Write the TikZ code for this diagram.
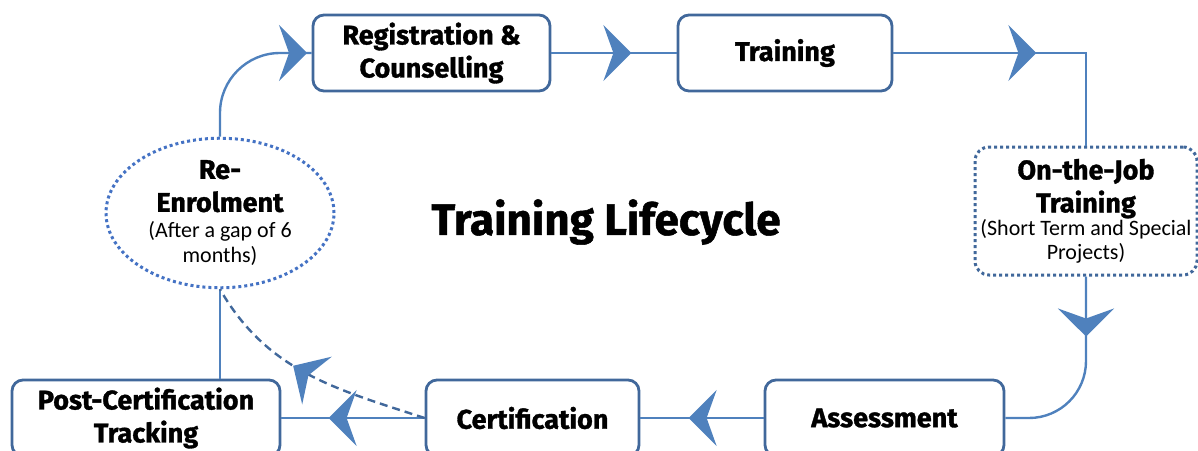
\documentclass[tikz,border=0pt]{standalone}
\usepackage{fontspec}
\setmainfont{Fira Sans}[BoldFeatures={FakeBold=1.2}]
\newfontfamily\subfont{Carlito}
\usetikzlibrary{arrows.meta,decorations.markings,shapes.geometric}
\definecolor{lineblue}{HTML}{4F81BD}
\definecolor{boxblue}{HTML}{41689B}
\definecolor{dotblue}{HTML}{4472C4}
\newcommand\subline[1]{{\subfont\mdseries\fontsize{22}{26}\selectfont #1}}
\tikzset{
  bigtip/.tip={Stealth[length=28pt,width=56pt,inset=10pt,color=lineblue,fill=lineblue]},
  stage/.style={draw=boxblue, line width=2.8pt, rounded corners=11pt, fill=white,
    align=center, font=\fontsize{27}{33}\selectfont\bfseries, inner sep=0pt,
    minimum height=76pt},
  dotbox/.style={draw=boxblue, line width=3pt, dash pattern=on 3pt off 3pt,
    rounded corners=14pt, fill=white, align=center,
    font=\fontsize{27}{33}\selectfont\bfseries, inner sep=0pt},
  dotellipse/.style={ellipse, draw=dotblue, line width=3pt, dash pattern=on 3pt off 3pt,
    fill=white, align=center, font=\fontsize{27}{33}\selectfont\bfseries, inner sep=0pt},
  conn/.style={draw=lineblue, line width=2.4pt},
  dashconn/.style={draw=boxblue, line width=2.4pt, dash pattern=on 8pt off 5pt},
  midarrow/.style={postaction={decorate}, decoration={markings,
    mark=at position #1 with {\arrow{bigtip}}}},
}
\begin{document}
\begin{tikzpicture}[x=1pt,y=-1pt]
\useasboundingbox (0,0) rectangle (1198,450);
\clip (0,0) rectangle (1198,450);
% nodes
\node[stage, minimum width=237pt] (reg) at (431.5,53) {Registration \&\\Counselling};
\node[stage, minimum width=214pt] (train) at (785,53) {Training};
\node[dotbox, minimum width=222pt, minimum height=128pt] (ojt) at (1086,211)
  {On-the-Job\\Training\\[-10pt]\subline{(Short Term and Special}\\[-9pt]\subline{Projects)}};
\node[stage, minimum width=239pt] (assess) at (884.5,418) {Assessment};
\node[stage, minimum width=213pt] (cert) at (532.5,418) {Certification};
\node[stage, minimum width=268pt] (post) at (146,418) {Post-Certification\\Tracking};
\node[dotellipse, minimum width=228pt, minimum height=132pt] (reen) at (220,213)
  {Re-\\Enrolment\\[-7pt]\subline{(After a gap of 6}\\[-8pt]\subline{months)}};
\node[font=\fontsize{44}{50}\selectfont\bfseries] (title) at (606,222) {Training Lifecycle};
% connectors
\draw[conn, midarrow=80pt] (reg.east) -- (train.west);
\draw[conn, midarrow=143pt] (train.east) -| (ojt.north);
\draw[conn, midarrow=60pt, rounded corners=57pt] (ojt.south) |- (assess.east);
\draw[conn, midarrow=75pt] (assess.west) -- (cert.east);
\draw[conn, midarrow=96pt] (cert.west) -- (post.east);
\draw[conn] (reen.south) -- (reen.south |- post.north);
\draw[conn, midarrow=145pt, rounded corners=60pt] (reen.north) |- (reg.west);
\draw[dashconn, midarrow=0.57] (cert.west) to[out=162,in=-60] (reen.south);
\end{tikzpicture}
\end{document}
